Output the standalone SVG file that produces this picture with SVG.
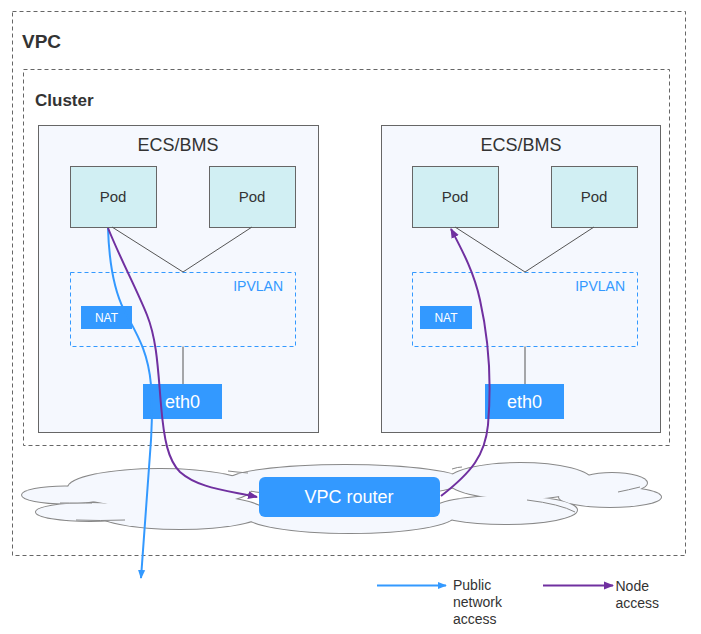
<svg xmlns="http://www.w3.org/2000/svg" width="701" height="634" viewBox="0 0 701 634">
<defs>
<style>
.dash{fill:none;stroke:#666;stroke-width:1;stroke-dasharray:4,3}
.ecs{fill:#f5f8fe;stroke:#666;stroke-width:1}
.pod{fill:#d1eff3;stroke:#666;stroke-width:1}
.ipv{fill:none;stroke:#3399ff;stroke-width:1;stroke-dasharray:4,3}
.blk{fill:#3399ff}
.ln{fill:none;stroke:#555;stroke-width:1}
.t{font-family:"Liberation Sans",Arial,sans-serif;fill:#333}
.w{font-family:"Liberation Sans",Arial,sans-serif;fill:#fff}
.cs{fill:#f5f8fe;stroke:#888;stroke-width:2}
.cf{fill:#f5f8fe}
.blue{fill:none;stroke:#3399ff;stroke-width:2}
.purp{fill:none;stroke:#7030a0;stroke-width:2}
</style>
<marker id="ab" viewBox="0 0 10 10" refX="9" refY="5" markerWidth="4.5" markerHeight="4.5" orient="auto" markerUnits="strokeWidth"><path d="M0,1 L10,5 L0,9 z" fill="#3399ff"/></marker>
<marker id="ap" viewBox="0 0 10 10" refX="9" refY="5" markerWidth="5" markerHeight="5" orient="auto" markerUnits="strokeWidth"><path d="M0,1 L10,5 L0,9 z" fill="#7030a0"/></marker>
</defs>
<rect width="701" height="634" fill="#fff"/>

<g id="vpc">
<rect class="dash" x="12.5" y="11.5" width="673" height="544"/>
<text class="t" x="22" y="48" font-size="19" font-weight="bold">VPC</text>
</g>

<g id="cluster">
<rect class="dash" x="23.5" y="69.5" width="646" height="376"/>
<text class="t" x="35" y="106" font-size="17" font-weight="bold">Cluster</text>
</g>

<g id="ecs-left">
<rect class="ecs" x="38.5" y="125.5" width="280" height="307"/>
<text class="t" x="178" y="151" font-size="18" text-anchor="middle">ECS/BMS</text>
</g>
<g id="pod-l1">
<rect class="pod" x="70.5" y="166.5" width="86" height="61"/>
<text class="t" x="113" y="202" font-size="15" text-anchor="middle">Pod</text>
</g>
<g id="pod-l2">
<rect class="pod" x="209.5" y="166.5" width="86" height="61"/>
<text class="t" x="252" y="202" font-size="15" text-anchor="middle">Pod</text>
</g>
<g id="ipvlan-left">
<rect class="ipv" x="70.5" y="272.5" width="225" height="74"/>
<text x="283" y="291" font-size="14" text-anchor="end" fill="#3399ff" font-family="Liberation Sans, Arial, sans-serif">IPVLAN</text>
</g>
<g id="nat-left">
<rect class="blk" x="81" y="306" width="51" height="23"/>
<text class="w" x="106.5" y="322" font-size="12" text-anchor="middle">NAT</text>
</g>
<g id="eth0-left">
<rect class="blk" x="143" y="384" width="79" height="35"/>
<text class="w" x="182.5" y="408" font-size="18" text-anchor="middle">eth0</text>
</g>

<g id="ecs-right">
<rect class="ecs" x="381.5" y="125.5" width="279" height="307"/>
<text class="t" x="521" y="151" font-size="18" text-anchor="middle">ECS/BMS</text>
</g>
<g id="pod-r1">
<rect class="pod" x="412.5" y="166.5" width="86" height="61"/>
<text class="t" x="455" y="202" font-size="15" text-anchor="middle">Pod</text>
</g>
<g id="pod-r2">
<rect class="pod" x="551.5" y="166.5" width="86" height="61"/>
<text class="t" x="594" y="202" font-size="15" text-anchor="middle">Pod</text>
</g>
<g id="ipvlan-right">
<rect class="ipv" x="412.5" y="272.5" width="225" height="74"/>
<text x="625" y="291" font-size="14" text-anchor="end" fill="#3399ff" font-family="Liberation Sans, Arial, sans-serif">IPVLAN</text>
</g>
<g id="nat-right">
<rect class="blk" x="420" y="306" width="52" height="23"/>
<text class="w" x="446" y="322" font-size="12" text-anchor="middle">NAT</text>
</g>
<g id="eth0-right">
<rect class="blk" x="485" y="384" width="79" height="35"/>
<text class="w" x="524.5" y="408" font-size="18" text-anchor="middle">eth0</text>
</g>

<g id="cloud">
<ellipse class="cs" cx="65" cy="495" rx="43" ry="8.5"/>
<ellipse class="cs" cx="90" cy="512" rx="54" ry="9"/>
<ellipse class="cs" cx="160" cy="488" rx="92" ry="19"/>
<ellipse class="cs" cx="180" cy="512" rx="85" ry="17"/>
<ellipse class="cs" cx="345" cy="481" rx="118" ry="16"/>
<ellipse class="cs" cx="350" cy="515" rx="105" ry="18"/>
<ellipse class="cs" cx="520" cy="481" rx="72" ry="18"/>
<ellipse class="cs" cx="612" cy="483" rx="35" ry="10"/>
<ellipse class="cs" cx="610" cy="497" rx="51" ry="10"/>
<ellipse class="cs" cx="505" cy="510" rx="72" ry="14"/>
<ellipse class="cf" cx="65" cy="495" rx="43" ry="8.5"/>
<ellipse class="cf" cx="90" cy="512" rx="54" ry="9"/>
<ellipse class="cf" cx="160" cy="488" rx="92" ry="19"/>
<ellipse class="cf" cx="180" cy="512" rx="85" ry="17"/>
<ellipse class="cf" cx="345" cy="481" rx="118" ry="16"/>
<ellipse class="cf" cx="350" cy="515" rx="105" ry="18"/>
<ellipse class="cf" cx="520" cy="481" rx="72" ry="18"/>
<ellipse class="cf" cx="612" cy="483" rx="35" ry="10"/>
<ellipse class="cf" cx="610" cy="497" rx="51" ry="10"/>
<ellipse class="cf" cx="505" cy="510" rx="72" ry="14"/>
<path d="M60,503 Q80,503 92,503 M76,520 Q100,521 125,520 M228,471 Q236,472 248,473 M452,469 Q458,467 462,467 M618,492 Q628,490 640,487 M527,500 Q560,504 575,512" fill="none" stroke="#888" stroke-width="1"/>
</g>

<g id="vpc-router">
<rect class="blk" x="259" y="477" width="181" height="40" rx="6"/>
<text class="w" x="349" y="503" font-size="18" text-anchor="middle">VPC router</text>
</g>

<g id="connectors">
<path class="ln" d="M112,227 L183,272 L252,227"/>
<path class="ln" d="M183,346.5 L183,384"/>
<path class="ln" d="M455,227 L525,272 L594,227"/>
<path class="ln" d="M525,346.5 L525,384"/>
<path class="blue" d="M108,228 C109,260 114,290 124,310 C136,333 148,350 151,385 C153,405 152,420 151,440 L141,578" marker-end="url(#ab)"/>
<path class="purp" d="M108,228 C120,258 137,290 147,315 C157,340 158,370 161,405 C164,440 168,460 180,472 C198,488 225,490 257,497" marker-end="url(#ap)"/>
<path class="purp" d="M441,496 C472,472 485,455 488,425 C491,390 490,345 480,300 C474,272 462,250 451,229" marker-end="url(#ap)"/>
</g>

<g id="legend">
<path class="blue" d="M377,585.5 L446,585.5" marker-end="url(#ab)"/>
<text class="t" font-size="14" x="453" y="590">Public</text>
<text class="t" font-size="14" x="453" y="607">network</text>
<text class="t" font-size="14" x="453" y="623.5">access</text>
<path class="purp" d="M543,585.5 L613,585.5" stroke-width="2.5" marker-end="url(#ap)"/>
<text class="t" font-size="14" x="615.5" y="591">Node</text>
<text class="t" font-size="14" x="615.5" y="607.5">access</text>
</g>
</svg>
